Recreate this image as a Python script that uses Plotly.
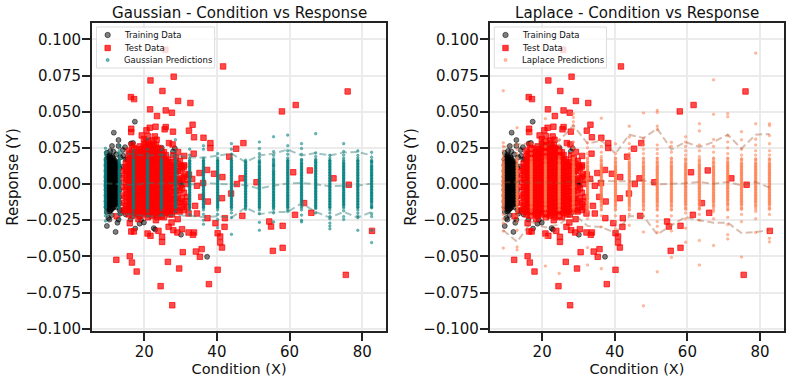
import plotly.graph_objects as go
from plotly.subplots import make_subplots

# training data, loose points around the block
train_x = [17.4, 11.6, 12.9, 16.3, 16.9, 11.1, 12.9, 14.7, 14.1, 24.8, 28.4, 9.7, 10.6, 11.5, 12.3, 14.8, 13.4,
           9.7, 10.4, 12.1, 12.9, 9.7, 13.4, 18.7, 17.5, 23.0, 30.1, 30.2, 30.2, 37.3, 19.9, 22.6, 14.2, 15.3,
           13.8, 15.9, 13.6, 14.9, 10.1, 11.0, 12.6, 16.2, 27.9, 29.8, 22.4, 19.1]
train_y = [.0431, .0355, .0304, .028, .0284, .0263, .0263, .0255, .0235, .0251, .0247, .0216, .0228, .0225, .0205,
           .0171, .0185, -.029, -.0246, -.0331, -.0246, -.0193, -.0205, -.0274, -.0308, -.0315, -.035, .0004,
           -.0012, -.0503, -.0266, -.0305, .0195, .0168, .012, .0095, -.0185, -.021, -.0235, -.0215, -.0268,
           -.0245, .0225, .0012, .0165, -.0248]

# training data, dense block at low condition
train_core_x = [9.6, 9.8, 10.0, 10.2, 10.4, 10.6, 10.8, 11.0, 11.2, 11.4, 11.6, 11.8, 12.0, 12.2, 12.4, 12.8, 13.2]
train_core_y = [
    [.017, .013, .009, .005, .002, -.001, -.004, -.008, -.012, -.016],
    [.015, .011, .007, .003, 0, -.003, -.006, -.01, -.014],
    [.019, .016, .013, .01, .007, .004, .001, -.002, -.005, -.008, -.011, -.014, -.017],
    [.018, .014, .011, .008, .005, .002, -.001, -.004, -.007, -.01, -.013, -.016],
    [.02, .017, .014, .011, .008, .005, .002, -.001, -.004, -.007, -.01, -.013, -.016, -.019],
    [.019, .015, .012, .009, .006, .003, 0, -.003, -.006, -.009, -.012, -.015, -.018],
    [.018, .015, .012, .009, .006, .003, 0, -.003, -.006, -.009, -.012, -.015, -.018],
    [.016, .013, .01, .007, .004, .001, -.002, -.005, -.008, -.011, -.014, -.017],
    [.019, .016, .013, .01, .007, .004, .001, -.002, -.005, -.008, -.011, -.014, -.017],
    [.018, .015, .012, .009, .006, .003, 0, -.003, -.006, -.009, -.012, -.015],
    [.017, .014, .011, .008, .005, .002, -.001, -.004, -.007, -.01, -.013, -.016],
    [.015, .012, .009, .006, .003, 0, -.003, -.006, -.009, -.012],
    [.016, .013, .01, .007, .004, .001, -.002, -.005, -.008, -.011, -.014],
    [.014, .011, .008, .005, .002, -.001, -.004, -.007, -.01, -.013],
    [.015, .012, .009, .006, .003, 0, -.003, -.006, -.009, -.012, -.016],
    [.013, .009, .005, .002, -.002, -.006, -.01, -.014],
    [.011, .006, .001, -.004, -.009, -.013, -.018],
]

# test data, points that can be read one by one
test_x = [25.8, 41.7, 21.7, 28.1, 25.0, 29.3, 32.7, 16.3, 17.2, 21.6, 23.5, 25.9, 27.6, 57.9, 61.7, 76.0, 33.3, 32.3,
          33.7, 36.3, 38.2, 38.2, 25.9, 25.6, 27.9, 23.1, 21.5, 20.6, 16.4, 16.4, 19.3, 22.9, 23.4, 26.8, 27.8, 45.3,
          47.3, 43.4, 31.0, 29.3, 33.6, 28.0, 30.2, 31.0, 32.3, 35.2, 37.3, 39.2, 41.5, 45.5, 46.8, 50.9, 61.0, 65.6,
          72.1, 76.3, 33.2, 34.5, 36.2, 43.9, 41.4, 35.7, 37.5, 34.0, 34.5, 32.2, 37.4, 42.2, 47.0, 64.0, 66.0, 61.5,
          54.4, 54.9, 58.1, 39.6, 42.1, 40.2, 40.9, 40.9, 41.4, 58.1, 55.4, 82.7, 33.7, 32.2, 33.4, 24.9, 24.9, 20.9,
          21.7, 16.4, 17.1, 16.0, 12.4, 18.4, 23.9, 26.7, 29.2, 27.5, 30.4, 28.0, 29.1, 35.8, 34.2, 35.3, 30.6, 16.0,
          12.3, 16.6, 17.9, 26.5, 29.6, 40.2, 24.5, 37.8, 27.7, 75.5]
test_y = [.0928, .0813, .0716, .0742, .0643, .0574, .056, .0601, .0587, .0516, .047, .0509, .0493, .0502, .0546, .064,
          .041, .0369, .0323, .032, .0283, .0249, .0394, .0378, .0362, .0396, .0389, .0371, .0382, .0359, .0336, .0329,
          .0306, .0283, .0274, .0244, .0283, .0189, .0194, .0221, .021, .0198, .0124, .0129, .0065, .0076, .0097, .0071,
          .0048, 0, .0039, .0012, .0081, .0094, .0039, -.0005, .0035, -.0012, .0007, -.0066, -.0098, -.0089, -.0121,
          -.0151, -.0204, -.0204, -.0236, -.0236, -.022, -.0132, -.0199, -.0213, -.0259, -.0294, -.0289, -.0271, -.0296,
          -.034, -.0363, -.0404, -.0439, -.0441, -.0462, -.0324, -.0335, -.0335, -.0351, -.0365, -.04, -.0342, -.0358,
          -.0328, -.0328, -.0271, -.0222, -.0243, -.0324, -.0296, -.0243, -.0266, -.0312, -.0319, -.0335, -.045, -.0467,
          -.0503, -.0471, -.0499, -.0524, -.0543, -.0605, -.0538, -.0584, -.0593, -.0706, -.0692, -.0838, -.0628]

# test data, solid red mass
test_core_x = [13.8, 14.9, 15.2, 15.7, 16.1, 16.6, 17.1, 17.7, 18.2, 18.8, 19.3, 19.9, 20.4, 21.0, 21.5, 22.1, 22.6,
               23.2, 23.7, 24.3, 24.8, 25.4, 25.9, 26.5, 27.0, 27.6, 28.1, 28.7, 29.2, 29.8, 30.4, 30.9, 31.4, 31.8]
test_core_y = [
    [.009, .004, -.002, -.008, -.013, -.018],
    [.014, .01, .006, .001, -.004, -.009, -.015, -.019],
    [.012, .008, .003, -.002, -.007, -.012, -.017],
    [.023, .019, .015, .011, .007, .003, -.001, -.005, -.009, -.013, -.017, -.021],
    [.021, .017, .013, .009, .005, .001, -.003, -.007, -.011, -.015, -.019],
    [.027, .022, .018, .014, .01, .006, .002, -.002, -.006, -.01, -.014, -.018, -.022],
    [.025, .02, .016, .012, .008, .004, 0, -.004, -.008, -.012, -.016, -.02],
    [.024, .02, .016, .012, .008, .004, 0, -.004, -.008, -.012, -.016, -.02],
    [.022, .018, .014, .01, .006, .002, -.002, -.006, -.01, -.014, -.018, -.021],
    [.026, .022, .018, .014, .01, .006, .002, -.002, -.006, -.01, -.014, -.018, -.022],
    [.024, .02, .016, .012, .008, .004, 0, -.004, -.008, -.012, -.016, -.02],
    [.031, .027, .023, .019, .015, .011, .007, .003, -.001, -.005, -.009, -.013, -.017, -.021],
    [.029, .025, .021, .017, .013, .009, .005, .001, -.003, -.007, -.011, -.015, -.019],
    [.033, .029, .025, .021, .017, .013, .009, .005, .001, -.003, -.007, -.011, -.015, -.019, -.023],
    [.027, .023, .019, .015, .011, .007, .003, -.001, -.005, -.009, -.013, -.017, -.021],
    [.03, .026, .022, .018, .014, .01, .006, .002, -.002, -.006, -.01, -.014, -.018, -.022],
    [.028, .024, .02, .016, .012, .008, .004, 0, -.004, -.008, -.012, -.016, -.02],
    [.027, .023, .019, .015, .011, .007, .003, -.001, -.005, -.009, -.013, -.017, -.021, -.025],
    [.025, .021, .017, .013, .009, .005, .001, -.003, -.007, -.011, -.015, -.019, -.023],
    [.024, .02, .016, .012, .008, .004, 0, -.004, -.008, -.012, -.016, -.02],
    [.022, .018, .014, .01, .006, .002, -.002, -.006, -.01, -.014, -.018, -.022],
    [.022, .018, .014, .01, .006, .002, -.002, -.006, -.01, -.014, -.018, -.023],
    [.02, .016, .012, .008, .004, 0, -.004, -.008, -.012, -.016, -.02],
    [.017, .013, .009, .005, .001, -.003, -.007, -.011, -.015, -.019],
    [.015, .011, .007, .003, -.001, -.005, -.009, -.013, -.017, -.021],
    [.015, .011, .006, .002, -.003, -.008, -.012, -.017, -.021],
    [.013, .009, .004, 0, -.005, -.01, -.014, -.019],
    [.018, .012, .007, .001, -.005, -.01, -.016],
    [.014, .009, .003, -.002, -.008, -.013, -.018],
    [.016, .009, .003, -.004, -.012, -.019],
    [.011, .004, -.003, -.01, -.016],
    [.012, .005, -.006, -.014, -.018],
    [.007, 0, -.012],
    [.003, -.009, -.016],
]

# predictions fall on these condition values
pred_x = [9.3, 13.1, 17.0, 20.9, 24.7, 28.6, 32.5, 36.3, 40.2, 44.0, 47.9, 51.7, 55.6, 59.5, 63.3, 67.2, 71.1, 74.9, 78.8, 82.6]

gauss_pred_y = [
    [.0247, .022, .02, .018, .016, .014, .012, .01, .008, .006, .004, .002, 0, -.002, -.004, -.006, -.008, -.01, -.012, -.014, -.016, -.018, -.02, -.022, -.0255],
    [.0267, .023, .021, .019, .017, .015, .013, .011, .009, .007, .005, .003, .001, -.001, -.003, -.005, -.007, -.009, -.011, -.013, -.015, -.017, -.019, -.021, -.024],
    [.0232, .021, .019, .017, .015, .013, .011, .009, .007, .005, .003, .001, -.001, -.003, -.005, -.007, -.009, -.011, -.013, -.015, -.017, -.019, -.021, -.023],
    [.0312, .024, .021, .019, .017, .015, .013, .011, .009, .007, .005, .003, .001, -.001, -.003, -.005, -.007, -.009, -.011, -.013, -.015, -.017, -.019, -.022],
    [.0235, .02, .018, .016, .014, .012, .01, .008, .006, .004, .002, 0, -.002, -.004, -.006, -.008, -.01, -.012, -.014, -.016, -.018, -.021],
    [.0306, .0225, .02, .018, .016, .014, .012, .01, .008, .006, .004, .002, 0, -.002, -.004, -.006, -.008, -.01, -.012, -.014, -.016, -.019],
    [.0241, .02, .018, .016, .014, .012, .01, .008, .006, .004, .002, 0, -.002, -.004, -.006, -.008, -.01, -.012, -.014, -.016, -.018, -.021],
    [.0265, .024, .018, .016, .014, .012, .01, .008, .006, .004, .002, 0, -.002, -.004, -.006, -.008, -.01, -.012, -.014, -.016, -.018, -.021, -.025, -.0278],
    [.021, .018, .016, .014, .012, .01, .008, .006, .004, .002, 0, -.002, -.004, -.006, -.008, -.01, -.012, -.014, -.016, -.018, -.021, -.0245, -.0302],
    [.0279, .0241, .0205, .018, .016, .014, .012, .01, .008, .006, .004, .002, 0, -.002, -.004, -.006, -.008, -.01, -.012, -.014, -.016, -.018, -.02, -.0232, -.0348],
    [.015, .013, .011, .009, .007, .005, .003, .001, -.001, -.003, -.005, -.007, -.009, -.011, -.013, -.015, -.0175],
    [.029, .0245, .021, .0185, .015, .012, .01, .008, .006, .004, .002, 0, -.002, -.004, -.006, -.008, -.01, -.012, -.014, -.016, -.018, -.0205, -.0265, -.032],
    [.0327, .0224, .0198, .0175, .013, .0085, .0065, .0045, .0025, .0005, -.0015, -.0035, -.0055, -.0075, -.0095, -.0115, -.0135, -.0155, -.0175, -.02, -.0262],
    [.0338, .0265, .023, .0205, .018, .016, .014, .012, .01, .008, .006, .004, .002, 0, -.002, -.004, -.006, -.008, -.01, -.012, -.014, -.016, -.018, -.019],
    [.0279, .0245, .0205, .017, .014, .012, .01, .008, .006, .004, .002, 0, -.002, -.004, -.006, -.008, -.01, -.012, -.018, -.0215, -.0251, -.0262],
    [.0348, .0215, .019, .017, .015, .013, .011, .009, .007, .005, .003, .001, -.001, -.003, -.005, -.007, -.009, -.011, -.013, -.015, -.017, -.02],
    [.0199, .018, .016, .014, .012, .01, .008, .006, .004, .002, 0, -.002, -.004, -.006, -.008, -.01, -.012, -.014, -.016, -.018, -.02, -.0225, -.024, -.027, -.029, -.031],
    [.0279, .0225, .02, .018, .014, .012, .01, .008, .006, .004, .002, 0, -.002, -.004, -.006, -.008, -.01, -.012, -.014, -.0185, -.0225, -.0245],
    [.0229, .0198, .018, .016, .014, .012, .01, .008, .006, .004, .002, 0, -.002, -.004, -.006, -.008, -.01, -.012, -.014, -.016, -.018, -.02, -.022, -.0232, -.032],
    [.0219, .0185, .0155, .012, .01, .008, .006, .004, .002, 0, -.002, -.004, -.006, -.008, -.01, -.012, -.016, -.0205, -.0225, -.032, -.0405],
]
# levels where every column in the picture is a solid stack
gauss_stack_y = [.0165, .0155, .0145, .0135, .0125, .0115, .0105, .0095, .0085, .0075, .0065, .0055, .0045, .0035, .0025, .0015, .0005,
                 -.0005, -.0015, -.0025, -.0035, -.0045, -.0055, -.0065, -.0075, -.0085, -.0095, -.0105, -.0115, -.0125, -.0135, -.0145, -.0155, -.0165]
gauss_upper = [.0225, .0215, .021, .0195, .0205, .0195, .0185, .0182, .0198, .021, .0152, .0198, .021, .0238, .0198, .0214, .0198, .0217, .0221, .0198]
gauss_mean = [.0005, .0002, -.0006, .0008, .0003, .0006, -.0005, .0007, .0003, -.0002, -.0009, -.0032, -.001, .0003, .0007, -.0002, -.0016, -.0011, -.0011, .0003]
gauss_lower = [-.0215, -.0205, -.021, -.0225, -.022, -.0215, -.022, -.0228, -.0223, -.0232, -.0163, -.0209, -.0193, -.0193, -.0133, -.0193, -.0232, -.0193, -.0232, -.0193]

laplace_pred_y = [
    [.0645, .0285, .026, .023, .02, .018, .015, .013, .011, .009, .007, .005, .003, .001, -.001, -.003, -.005, -.007, -.009, -.011, -.013, -.015, -.018, -.021, -.024, -.027, -.0325, -.0443],
    [.0389, .027, .024, .021, .018, .016, .013, .011, .009, .007, .005, .003, .001, -.001, -.003, -.005, -.007, -.009, -.011, -.013, -.016, -.019, -.022, -.026, -.032, -.0435, -.0455],
    [.035, .028, .024, .021, .018, .015, .013, .011, .009, .007, .005, .003, .001, -.001, -.003, -.005, -.007, -.009, -.011, -.013, -.016, -.019, -.022],
    [.0452, .03, .026, .022, .019, .016, .013, .011, .009, .007, .005, .003, .001, -.001, -.003, -.005, -.007, -.009, -.011, -.014, -.017, -.02, -.024, -.037, -.0567],
    [.0305, .027, .023, .019, .016, .013, .011, .009, .007, .005, .003, .001, -.001, -.003, -.005, -.007, -.009, -.012, -.015, -.018, -.022, -.0618],
    [.0486, .046, .043, .0405, .038, .029, .025, .021, .018, .015, .012, .01, .008, .006, .004, .002, 0, -.002, -.004, -.006, -.008, -.01, -.013, -.016, -.02],
    [.0285, .025, .021, .018, .015, .012, .01, .008, .006, .004, .002, 0, -.002, -.004, -.006, -.008, -.01, -.013, -.016, -.019, -.024, -.044, -.056],
    [.0455, .03, .026, .022, .019, .016, .013, .011, .009, .007, .005, .003, .001, -.001, -.003, -.005, -.007, -.009, -.012, -.015, -.018, -.022, -.0297, -.0585],
    [.0278, .021, .018, .015, .012, .01, .008, .006, .004, .002, 0, -.002, -.004, -.006, -.008, -.01, -.012, -.015, -.018, -.022, -.026, -.031],
    [.04, .0325, .0279, .0245, .021, .018, .015, .013, .011, .009, .007, .005, .003, .001, -.001, -.003, -.005, -.007, -.009, -.011, -.013, -.015, -.018, -.021, -.0285],
    [.0491, .0314, .027, .024, .021, .018, .015, .012, .01, .008, .006, .004, .002, 0, -.002, -.004, -.006, -.008, -.01, -.012, -.015, -.018, -.022, -.0332, -.0842],
    [.0509, .0495, .04, .0375, .027, .024, .021, .018, .015, .012, .01, .008, .006, .004, .002, 0, -.002, -.004, -.006, -.008, -.01, -.012, -.015, -.018, -.022, -.026, -.0292, -.0335, -.0607],
    [.0288, .026, .022, .018, .015, .012, .01, .008, .006, .004, .002, 0, -.002, -.004, -.006, -.008, -.01, -.012, -.015, -.018, -.022, -.0281, -.0325, -.0508],
    [.0326, .029, .026, .023, .02, .017, .014, .012, .01, .008, .006, .004, .002, 0, -.002, -.004, -.006, -.008, -.01, -.012, -.014, -.017, -.02, -.024, -.0305, -.0402],
    [.0417, .0367, .027, .023, .019, .016, .013, .011, .009, .007, .005, .003, .001, -.001, -.003, -.005, -.007, -.009, -.011, -.014, -.017, -.021, -.025, -.039, -.056],
    [.072, .0482, .0308, .026, .022, .018, .015, .012, .01, .008, .006, .004, .002, 0, -.002, -.004, -.006, -.008, -.01, -.012, -.015, -.019, -.024, -.0425],
    [.0487, .0465, .0335, .029, .025, .021, .018, .015, .013, .011, .009, .007, .005, .003, .001, -.001, -.003, -.005, -.007, -.009, -.011, -.014, -.018, -.023, -.028, -.035, -.038],
    [.0362, .0306, .024, .02, .017, .014, .012, .01, .008, .006, .004, .002, 0, -.002, -.004, -.006, -.008, -.01, -.012, -.014, -.017, -.021, -.026, -.0505],
    [.0905, .0417, .031, .027, .023, .02, .017, .014, .012, .01, .008, .006, .004, .002, 0, -.002, -.004, -.006, -.008, -.01, -.012, -.015, -.019, -.024, -.0335],
    [.0417, .0405, .0335, .0279, .023, .02, .017, .014, .012, .01, .008, .006, .004, .002, 0, -.002, -.004, -.006, -.008, -.01, -.012, -.014, -.017, -.021, -.033, -.0375, -.04],
]
laplace_stack_y = [.0175, .016, .0145, .0135, .0125, .0115, .0105, .0095, .0085, .0075, .0065, .0055, .0045, .0035, .0025, .0015, .0005,
                   -.0005, -.0015, -.0025, -.0035, -.0045, -.0055, -.0065, -.0075, -.0085, -.0095, -.0105, -.0115, -.0125, -.0135, -.0145, -.016, -.0175]
laplace_upper = [.0255, .0275, .028, .0265, .03, .0405, .028, .03, .021, .0341, .0318, .0383, .0238, .029, .0256, .029, .0341, .0245, .0341, .0346]
laplace_mean = [.001, .0015, .0008, .0012, .0006, .0018, .0022, .002, .0017, .0018, .0026, -.0002, .0002, .0005, .0014, .0002, .0014, -.0009, .0014, -.0025]
laplace_lower = [-.032, -.04, -.0262, -.03, -.028, -.0203, -.029, -.0297, -.0339, -.0223, -.0223, -.0348, -.0285, -.0228, -.0251, -.0267, -.0267, -.0339, -.0332, -.032]

x_ticks = [20, 40, 60, 80]
y_ticks = [-0.1, -0.075, -0.05, -0.025, 0, 0.025, 0.05, 0.075, 0.1]

FONT = "DejaVu Sans"
INK = "#222222"
W, H = 792, 382
PLOT_L, PLOT_R, PLOT_T, PLOT_B = 92, 786, 23, 331


def flatten(xs, nested):
    out_x, out_y = [], []
    for x, ys in zip(xs, nested):
        for y in ys:
            out_x.append(x)
            out_y.append(y)
    return out_x, out_y


def paper_x(px):
    return (px - PLOT_L) / (PLOT_R - PLOT_L)


def paper_y(py):
    return (PLOT_B - py) / (PLOT_B - PLOT_T)


core_x, core_y = flatten(train_core_x, train_core_y)
all_train_x, all_train_y = train_x + core_x, train_y + core_y
core_x, core_y = flatten(test_core_x, test_core_y)
all_test_x, all_test_y = test_x + core_x, test_y + core_y

fig = make_subplots(rows=1, cols=2)

panels = [
    (1, "Gaussian", gauss_pred_y, gauss_stack_y, gauss_upper, gauss_mean, gauss_lower, "rgba(0,128,128,0.55)", "rgba(47,125,115,0.45)", 92, 387),
    (2, "Laplace", laplace_pred_y, laplace_stack_y, laplace_upper, laplace_mean, laplace_lower, "rgba(255,127,80,0.5)", "rgba(160,82,45,0.38)", 491, 786),
]

shapes = []
annotations = []

for col, name, pred_y, stack_y, upper, mean, lower, pred_color, line_color, left, right in panels:
    fig.add_trace(go.Scatter(x=all_train_x, y=all_train_y, mode="markers", name="Training Data",
                             marker=dict(symbol="circle", size=5, color="rgba(0,0,0,0.5)",
                                         line=dict(color="rgba(0,0,0,0.5)", width=1))), row=1, col=col)
    fig.add_trace(go.Scatter(x=all_test_x, y=all_test_y, mode="markers", name="Test Data",
                             marker=dict(symbol="square", size=5.5, color="rgba(255,0,0,0.7)",
                                         line=dict(color="rgba(255,0,0,0.7)", width=1))), row=1, col=col)
    px_, py_ = flatten(pred_x, pred_y)
    sx_, sy_ = flatten(pred_x, [stack_y] * len(pred_x))
    fig.add_trace(go.Scatter(x=px_ + sx_, y=py_ + sy_, mode="markers", name=name + " Predictions",
                             marker=dict(symbol="circle", size=2.6, color=pred_color,
                                         line=dict(color=pred_color, width=0.7))), row=1, col=col)
    for band in (upper, mean, lower):
        fig.add_trace(go.Scatter(x=pred_x, y=band, mode="lines", showlegend=False,
                                 line=dict(color=line_color, width=2, dash="7px,3.5px")), row=1, col=col)

    xname = "xaxis" if col == 1 else "xaxis2"
    yname = "yaxis" if col == 1 else "yaxis2"
    fig.update_layout({
        xname: dict(domain=[paper_x(left), paper_x(right)], range=[5.6, 86.6], tickmode="array", tickvals=x_ticks,
                    ticks="outside", ticklen=8, tickwidth=2, tickcolor=INK, showline=True, linewidth=2,
                    ticklabelstandoff=-2, linecolor=INK, mirror=True, showgrid=True, gridcolor="#ebebeb", gridwidth=1.5,
                    zeroline=False, tickfont=dict(family=FONT, size=15, color="#111111"),
                    title=dict(text="Condition (X)", font=dict(family=FONT, size=14.5, color="#111111"), standoff=3)),
        yname: dict(domain=[0, 1], range=[-0.1016, 0.1113], tickmode="array", tickvals=y_ticks,
                    tickformat=".3f", ticks="outside", ticklen=8, tickwidth=2, tickcolor=INK, showline=True,
                    ticklabelstandoff=-2, linewidth=2, linecolor=INK, mirror=True, showgrid=True, gridcolor="#ebebeb",
                    gridwidth=1.5, zeroline=False, tickfont=dict(family=FONT, size=15, color="#111111"),
                    title=dict(text="Response (Y)", font=dict(family=FONT, size=15, color="#111111"), standoff=3)),
    })

    # legend box drawn by hand, plotly's own legend rows cannot get this tight
    box_l, box_r = left + 4.5, left + (123 if col == 1 else 117)
    shapes.append(dict(type="rect", xref="paper", yref="paper", x0=paper_x(box_l), x1=paper_x(box_r),
                       y0=paper_y(68), y1=paper_y(27),
                       fillcolor="rgba(255,255,255,0.8)", line=dict(color="#dddddd", width=1)))
    key_x = paper_x(left + 15.7)
    for key_y, kind, fill in [(35, "circle", "rgba(0,0,0,0.5)"), (48, "rect", "rgba(255,0,0,0.75)"), (60, "circle", pred_color)]:
        half = 1.5 if key_y == 60 else 2.7
        shapes.append(dict(type=kind, xref="paper", yref="paper", xsizemode="pixel", ysizemode="pixel",
                           xanchor=key_x, yanchor=paper_y(key_y), x0=-half, x1=half, y0=-half, y1=half,
                           fillcolor=fill, line=dict(color=fill, width=1)))
    for key_y, label in [(35, "Training Data"), (48, "Test Data"), (60, name + " Predictions")]:
        annotations.append(dict(text=label, xref="paper", yref="paper", x=paper_x(left + 30), y=paper_y(key_y),
                                xanchor="left", yanchor="middle", showarrow=False,
                                font=dict(family=FONT, size=8.5, color="#111111")))
    annotations.append(dict(text=name + " - Condition vs Response", xref="paper", yref="paper",
                            x=paper_x((left + right) / 2), y=paper_y(13), xanchor="center", yanchor="middle",
                            showarrow=False, font=dict(family=FONT, size=15.1, color="#111111")))

fig.update_layout(width=W, height=H, autosize=False, showlegend=False,
                  margin=dict(l=PLOT_L, r=W - PLOT_R, t=PLOT_T, b=H - PLOT_B),
                  paper_bgcolor="white", plot_bgcolor="white", shapes=shapes, annotations=annotations)

fig.write_html("out.html", config={"displayModeBar": False}, post_script="document.body.style.margin='0';")
